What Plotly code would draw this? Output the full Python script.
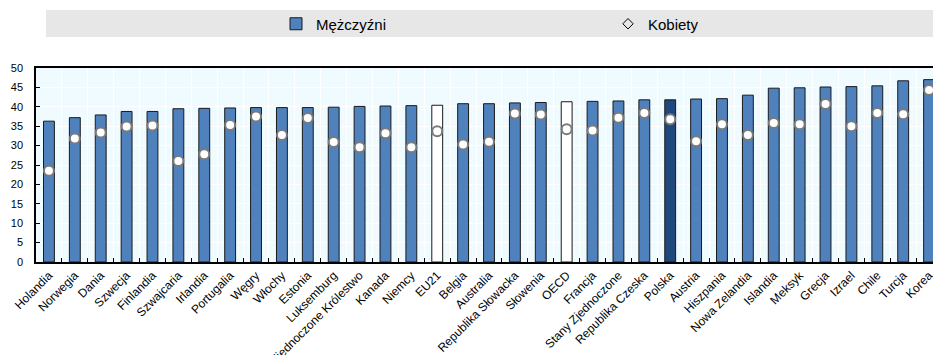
import plotly.graph_objects as go

# Countries, ordered by the men's value
categories = [
    "Holandia", "Norwegia", "Dania", "Szwecja", "Finlandia", "Szwajcaria",
    "Irlandia", "Portugalia", "Węgry", "Włochy", "Estonia", "Luksemburg",
    "Zjednoczone Królestwo", "Kanada", "Niemcy", "EU21", "Belgia", "Australia",
    "Republika Słowacka", "Słowenia", "OECD", "Francja", "Stany Zjednoczone",
    "Republika Czeska", "Polska", "Austria", "Hiszpania", "Nowa Zelandia",
    "Islandia", "Meksyk", "Grecja", "Izrael", "Chile", "Turcja", "Korea",
]

men = [
    36.3, 37.2, 37.9, 38.8, 38.8, 39.5, 39.6, 39.7, 39.8, 39.8, 39.8, 39.9,
    40.1, 40.2, 40.3, 40.4, 40.8, 40.8, 41.0, 41.1, 41.3, 41.4, 41.5, 41.8,
    41.8, 42.0, 42.1, 43.0, 44.8, 44.9, 45.1, 45.2, 45.4, 46.7, 47.0,
]

women = [
    23.5, 31.8, 33.4, 34.9, 35.2, 26.0, 27.8, 35.3, 37.5, 32.7, 37.1, 30.9,
    29.6, 33.2, 29.6, 33.7, 30.3, 31.0, 38.3, 38.0, 34.2, 33.9, 37.2, 38.4,
    36.8, 31.1, 35.5, 32.7, 35.8, 35.5, 40.7, 35.0, 38.4, 38.1, 44.3,
]

y_ticks = [0, 5, 10, 15, 20, 25, 30, 35, 40, 45, 50]

averages = {"EU21", "OECD"}
highlight = {"Polska"}

BLUE = "#4F81BD"
NAVY = "#1F497D"
FONT = "Liberation Sans, Arial, sans-serif"

bar_colors = [
    "#FFFFFF" if c in averages else NAVY if c in highlight else BLUE
    for c in categories
]

W, H = 933, 355
L, T, B, R = 36, 68, 93, 0
step = 25.886  # px per category
x_end = -0.5 + (W - L - R) / step

fig = go.Figure()

fig.add_trace(go.Bar(
    x=categories, y=men, name="Mężczyźni",
    marker=dict(color=bar_colors, line=dict(color="#1a1a1a", width=1)),
    legend="legend",
))

fig.add_trace(go.Scatter(
    x=categories, y=women, mode="markers", name="Kobiety", showlegend=False,
    marker=dict(symbol="circle", size=10, color="#FFFFFF",
                line=dict(color="#7a7a7a", width=2)),
))

# Legend key for the women's markers
fig.add_trace(go.Scatter(
    x=[None], y=[None], mode="markers", name="Kobiety",
    marker=dict(symbol="diamond-open", size=8, color="#000000",
                line=dict(color="#000000", width=1)),
    legend="legend2",
))

plot_h = H - T - B


def py(px):
    """Convert a pixel row to paper y."""
    return (H - B - px) / plot_h


def px_x(px):
    """Convert a pixel column to paper x."""
    return (px - L) / (W - L - R)


# Grey band behind the legend
fig.add_shape(
    type="rect", xref="paper", yref="paper",
    x0=px_x(46), x1=px_x(W + 5), y0=py(37), y1=py(10),
    fillcolor="#E7E7E7", line=dict(width=0), layer="below",
)

legend_common = dict(
    orientation="h", xref="container", yref="container",
    yanchor="middle", xanchor="left", bgcolor="rgba(0,0,0,0)",
    font=dict(family=FONT, size=15, color="#000000"),
    itemwidth=30,
)

fig.update_layout(
    width=W, height=H,
    margin=dict(l=L, r=R, t=T, b=B, pad=0, autoexpand=False),
    paper_bgcolor="#FFFFFF",
    plot_bgcolor="#EFFBFF",
    bargap=0.58,
    font=dict(family=FONT, size=11, color="#000000"),
    legend=dict(x=276 / W, y=1 - 24 / H, **legend_common),
    legend2=dict(x=608 / W, y=1 - 24 / H, **legend_common),
    xaxis=dict(
        type="category", categoryorder="array", categoryarray=categories,
        range=[-0.5, x_end], automargin=False,
        tickangle=-45, tickfont=dict(size=12, family=FONT),
        showline=True, linecolor="#000000", linewidth=1.5, mirror=True,
        ticks="inside", ticklen=4, tickcolor="#000000", tickwidth=1,
        tickson="boundaries",
        showgrid=True, gridcolor="#FFFFFF", gridwidth=1,
    ),
    yaxis=dict(
        range=[0, 50], tickvals=y_ticks, automargin=False,
        tickfont=dict(size=11, family=FONT),
        showline=True, linecolor="#000000", linewidth=1.5,
        ticks="inside", ticklen=4, tickcolor="#000000",
        showgrid=True, gridcolor="#FFFFFF", gridwidth=1,
        zeroline=False, ticklabelstandoff=9,
    ),
)

fig.write_html("out.html")
